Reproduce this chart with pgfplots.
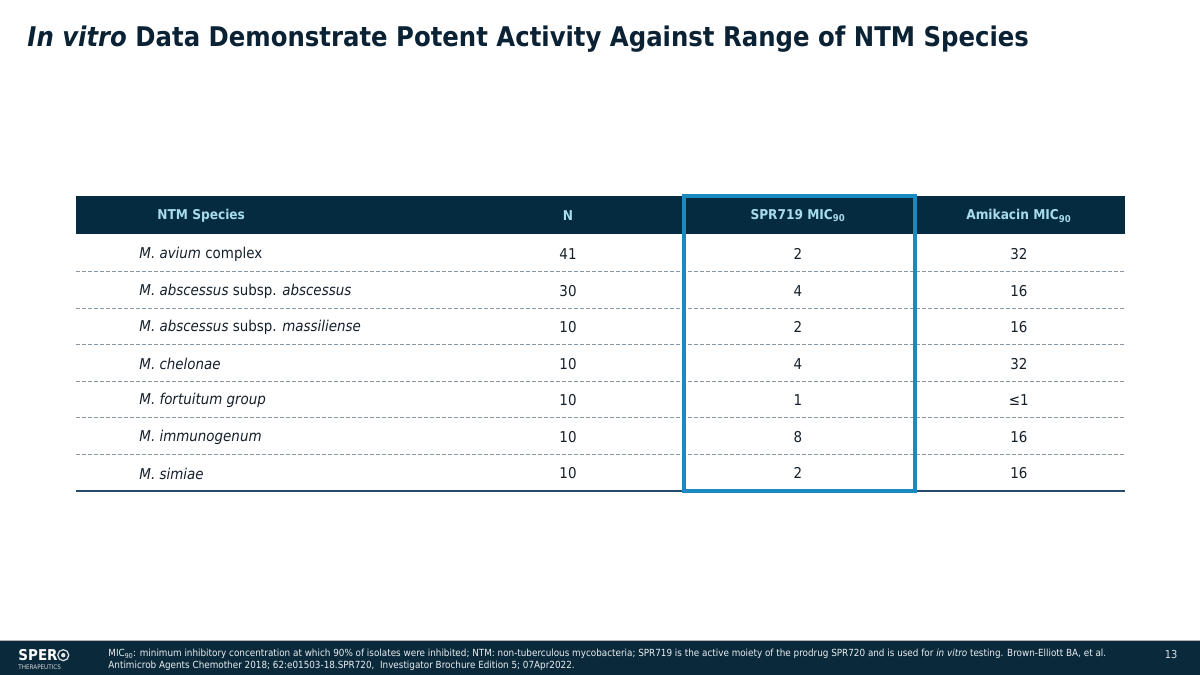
\documentclass[border=0pt]{standalone}
\usepackage{fontspec}
\setmainfont{DejaVu Sans Condensed}
\usepackage{pgfplots}
\usepackage{pgfplotstable}
\pgfplotsset{compat=1.18}
\definecolor{navy}{HTML}{042B40}
\definecolor{titlecol}{HTML}{0B2235}
\definecolor{hdrtext}{HTML}{A8DCEC}
\definecolor{boxblue}{HTML}{1A8BC2}
\definecolor{rowtext}{HTML}{15202B}
\definecolor{dashcol}{HTML}{8A96A0}
\definecolor{botline}{HTML}{27496A}
\definecolor{footbg}{HTML}{0A2A3C}

\pgfplotstableread[col sep=comma]{
r,species,N,spr,ami
0,\textit{M. avium} complex,41,2,32
1,\textit{M. abscessus} subsp. \textit{abscessus},30,4,16
2,\textit{M. abscessus} subsp. \textit{massiliense},10,2,16
3,\textit{M. chelonae},10,4,32
4,\textit{M. fortuitum group},10,1,≤1
5,\textit{M. immunogenum},10,8,16
6,\textit{M. simiae},10,2,16
}\datatab

\begin{document}
\begin{tikzpicture}
\begin{axis}[width=1200bp, height=675bp, scale only axis,
  xmin=0, xmax=1200, ymin=0, ymax=675, y dir=reverse,
  hide axis, clip=false]
% background
\fill[white] (axis cs:0,0) rectangle (axis cs:1200,675);
% title
\node[anchor=base west, inner sep=0, text=titlecol, font=\fontsize{27.2}{30}\selectfont\bfseries]
  at (axis cs:27,47) {\textit{In vitro} Data Demonstrate Potent Activity Against Range of NTM Species};
% header bar
\fill[navy] (axis cs:76,196) rectangle (axis cs:1125,234);
\begin{scope}[every node/.style={inner sep=0, text=hdrtext, font=\fontsize{13.6}{16}\selectfont\bfseries}]
\node[anchor=west] at (axis cs:157,216) {NTM Species};
\node at (axis cs:568,216) {N};
\node at (axis cs:798,216) {SPR719 MIC\textsubscript{90}};
\node at (axis cs:1019,216) {Amikacin MIC\textsubscript{90}};
\end{scope}
% separators
\draw[dashcol, line width=0.8bp, dash pattern=on 4bp off 2bp] (axis cs:76,272) -- (axis cs:1125,272);
\draw[dashcol, line width=0.8bp, dash pattern=on 4bp off 2bp] (axis cs:76,308.5) -- (axis cs:1125,308.5);
\draw[dashcol, line width=0.8bp, dash pattern=on 4bp off 2bp] (axis cs:76,345) -- (axis cs:1125,345);
\draw[dashcol, line width=0.8bp, dash pattern=on 4bp off 2bp] (axis cs:76,381.5) -- (axis cs:1125,381.5);
\draw[dashcol, line width=0.8bp, dash pattern=on 4bp off 2bp] (axis cs:76,418) -- (axis cs:1125,418);
\draw[dashcol, line width=0.8bp, dash pattern=on 4bp off 2bp] (axis cs:76,454.5) -- (axis cs:1125,454.5);
\draw[botline, line width=1.5bp] (axis cs:76,491) -- (axis cs:1125,491);
% data
\addplot[only marks, mark=none, nodes near coords, point meta=explicit symbolic,
  nodes near coords style={anchor=west, inner sep=0, text=rowtext, font=\fontsize{15}{17}\selectfont}]
  table[x expr=139, y expr=255+36.5*\thisrow{r}, meta=species] {\datatab};
\addplot[only marks, mark=none, nodes near coords, point meta=explicit symbolic,
  nodes near coords style={anchor=center, inner sep=0, text=rowtext, font=\fontsize{15}{17}\selectfont}]
  table[x expr=568, y expr=254.5+36.5*\thisrow{r}, meta=N] {\datatab};
\addplot[only marks, mark=none, nodes near coords, point meta=explicit symbolic,
  nodes near coords style={anchor=center, inner sep=0, text=rowtext, font=\fontsize{15}{17}\selectfont}]
  table[x expr=798, y expr=254.5+36.5*\thisrow{r}, meta=spr] {\datatab};
\addplot[only marks, mark=none, nodes near coords, point meta=explicit symbolic,
  nodes near coords style={anchor=center, inner sep=0, text=rowtext, font=\fontsize{15}{17}\selectfont}]
  table[x expr=1019, y expr=254.5+36.5*\thisrow{r}, meta=ami] {\datatab};
% highlight box
\draw[boxblue, line width=3.5bp] (axis cs:684,196) rectangle (axis cs:915,491);
% footer
\fill[footbg] (axis cs:0,641) rectangle (axis cs:1200,675);
\draw[gray!60, line width=0.6bp] (axis cs:0,641) -- (axis cs:1200,641);
\node[anchor=base west, inner sep=0, text=white, font=\fontsize{15}{16}\selectfont\bfseries] at (axis cs:18,661) {SPER};
\draw[white!80!gray, line width=1.2bp] (axis cs:63,655.5) circle[radius=5.5bp];
\fill[white!80!gray] (axis cs:63,655.5) circle[radius=2.2bp];
\node[anchor=base west, inner sep=0, text=white!70!gray, font=\fontsize{6.3}{7}\selectfont] at (axis cs:18,670) {THERAPEUTICS};
\begin{scope}[every node/.style={anchor=base west, inner sep=0, text=white!92!navy, font=\fontsize{9.85}{11}\selectfont}]
\node at (axis cs:108,657) {MIC\textsubscript{90}: minimum inhibitory concentration at which 90\% of isolates were inhibited; NTM: non-tuberculous mycobacteria; SPR719 is the active moiety of the prodrug SPR720 and is used for \textit{in vitro} testing. Brown-Elliott BA, et al.};
\node at (axis cs:108,669) {Antimicrob Agents Chemother 2018; 62:e01503-18.SPR720,\ \ Investigator Brochure Edition 5; 07Apr2022.};
\end{scope}
\node[anchor=base west, inner sep=0, text=white!85!navy, font=\fontsize{11}{12}\selectfont] at (axis cs:1165,659) {13};
\end{axis}
\end{tikzpicture}
\end{document}
